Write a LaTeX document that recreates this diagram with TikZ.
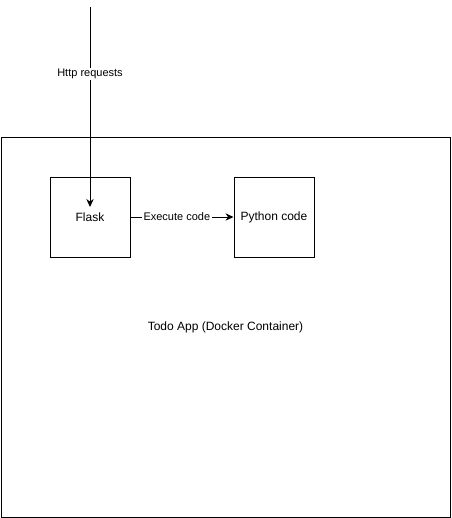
\documentclass[tikz,border=0pt]{standalone}
\usepackage{fontspec}
\setmainfont{Liberation Sans}
\usetikzlibrary{arrows.meta,positioning}

\begin{document}
\begin{tikzpicture}[x=0.75pt,y=-0.75pt,
    container/.style={draw,line width=0.75pt,minimum width=336.75pt,minimum height=285pt,inner sep=0pt,font=\fontsize{9}{10}\selectfont},
    box/.style={draw,line width=0.75pt,minimum size=60pt,inner sep=0pt,font=\fontsize{9}{10}\selectfont},
    lbl/.style={fill=white,inner sep=1pt,font=\fontsize{8.25}{9}\selectfont},
    flow/.style={-{Stealth[length=6pt,width=5.5pt]},line width=0.75pt}]
    \useasboundingbox (0,0) rectangle (451,518);
    % docker container
    \node[container] (app) at (225.5,327) {Todo App (Docker Container)};
    % services
    \node[box] (flask) at (90,217) {Flask};
    \node[box,right=77.25pt of flask] (python) {Python code};
    % incoming requests
    \coordinate (client) at (90,7);
    \coordinate (hit) at (90,207);
    \draw[flow] (client) -- node[lbl,pos=0.335] {Http requests} (hit);
    \draw[flow] (flask) -- node[lbl,pos=0.45] {Execute code} (python);
\end{tikzpicture}
\end{document}
